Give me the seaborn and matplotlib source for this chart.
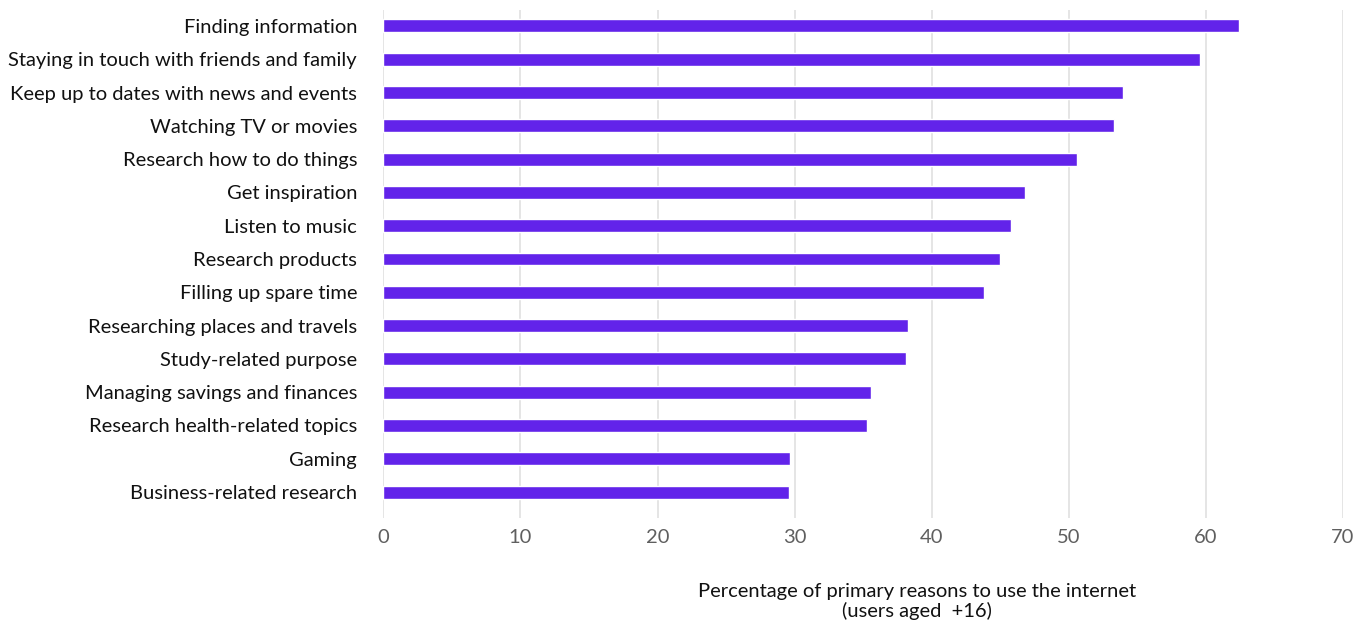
import matplotlib
matplotlib.use("Agg")
import matplotlib.pyplot as plt
import seaborn as sns
import pandas as pd

categories = [
    "Finding information",
    "Staying in touch with friends and family",
    "Keep up to dates with news and events",
    "Watching TV or movies",
    "Research how to do things",
    "Get inspiration",
    "Listen to music",
    "Research products",
    "Filling up spare time",
    "Researching places and travels",
    "Study-related purpose",
    "Managing savings and finances",
    "Research health-related topics",
    "Gaming",
    "Business-related research",
]
values = [62.4, 59.6, 54.0, 53.3, 50.6, 46.8, 45.8, 45.0, 43.8, 38.3, 38.1, 35.6, 35.3, 29.7, 29.6]
x_ticks = [0, 10, 20, 30, 40, 50, 60, 70]
x_label = "Percentage of primary reasons to use the internet\n(users aged  +16)"

sns.set_theme(style="white")
plt.rcParams["font.family"] = ["Lato", "DejaVu Sans"]

df = pd.DataFrame({"reason": categories, "pct": values})

fig = plt.figure(figsize=(13.68, 6.23), dpi=100)
ax = fig.add_axes([0.2803, 0.1685, 0.7012, 0.8155])

sns.barplot(data=df, x="pct", y="reason", orient="h", color="#6223EA",
            saturation=1, width=0.39, ax=ax, zorder=3)

ax.set_xlim(0, 70)
ax.set_ylim(14.78, -0.48)
ax.set_xticks(x_ticks)
ax.set_xticklabels([str(t) for t in x_ticks])
ax.xaxis.grid(True, color="#e0e0e0", linewidth=1.2, zorder=0)
ax.yaxis.grid(False)
for s in ax.spines.values():
    s.set_visible(False)
ax.tick_params(axis="x", length=0, pad=8, labelsize=14.5, labelcolor="#5f5f5f")
ax.tick_params(axis="y", length=0, pad=19, labelsize=14.5, labelcolor="#111111")
ax.set_ylabel("")
ax.set_xlabel(x_label, fontsize=14.5, color="#111111", linespacing=1.15)
ax.xaxis.set_label_coords(0.556, -0.128)
ax.xaxis.label.set_verticalalignment("top")

fig.savefig("out.png", dpi=100, facecolor="white")
